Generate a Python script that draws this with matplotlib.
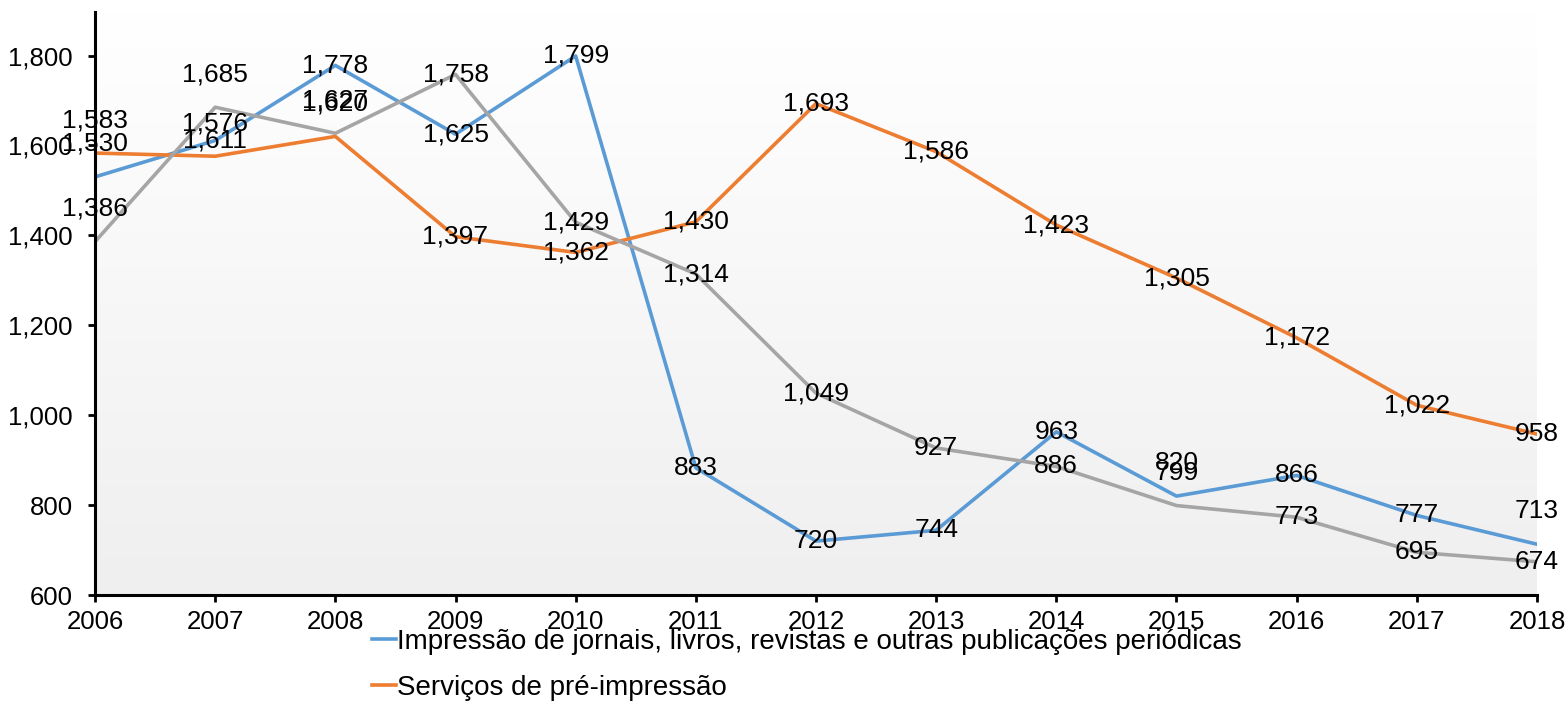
import numpy as np
import matplotlib.pyplot as plt
from matplotlib.colors import LinearSegmentedColormap
from matplotlib.ticker import FuncFormatter

plt.rcParams['font.family'] = ['Liberation Sans', 'DejaVu Sans']

# data
years = [2006, 2007, 2008, 2009, 2010, 2011, 2012, 2013, 2014, 2015, 2016, 2017, 2018]
impressao = [1530, 1611, 1778, 1625, 1799, 883, 720, 744, 963, 820, 866, 777, 713]
pre_impressao = [1583, 1576, 1620, 1397, 1362, 1430, 1693, 1586, 1423, 1305, 1172, 1022, 958]
acabamentos = [1386, 1685, 1627, 1758, 1429, 1314, 1049, 927, 886, 799, 773, 695, 674]

series_names = ["Impressão de jornais, livros, revistas e outras publicações periódicas",
                "Serviços de pré-impressão",
                "Serviços de acabamentos gráficos"]
colors = ['#5B9BD5', '#ED7D31', '#A5A5A5']

# where the value label sits: 'a' above the point, 'c' on the point
label_pos = [
    ['a', 'c', 'c', 'c', 'c', 'c', 'c', 'c', 'c', 'a', 'c', 'c', 'a'],
    ['a', 'a', 'a', 'c', 'c', 'c', 'c', 'c', 'c', 'c', 'c', 'c', 'c'],
    ['a', 'a', 'a', 'c', 'c', 'c', 'c', 'c', 'c', 'a', 'c', 'c', 'c'],
]

fig = plt.figure(figsize=(15.68, 7.26), dpi=100)
ax = fig.add_axes([0.0606, 0.1804, 0.9196, 0.8026])

ymin, ymax = 600, 1896
ax.set_xlim(2006, 2018)
ax.set_ylim(ymin, ymax)

# gradient plot area
grad = LinearSegmentedColormap.from_list('bg', ['#efefef', '#ffffff'])
ax.imshow(np.linspace(0, 1, 256).reshape(-1, 1), cmap=grad, aspect='auto',
          extent=[2006, 2018, ymin, ymax], origin='lower', zorder=0)

lines = []
for vals, col, pos in zip([impressao, pre_impressao, acabamentos], colors, label_pos):
    ln, = ax.plot(years, vals, color=col, lw=2.6, zorder=2, solid_joinstyle='round')
    lines.append(ln)
    for x, v, p in zip(years, vals, pos):
        dy = 33 if p == 'a' else 0
        ax.annotate(f"{v:,}", (x, v), xytext=(0, dy), textcoords='offset pixels',
                    ha='center', va='center', fontsize=19, color='black',
                    zorder=5, annotation_clip=False)

ax.set_xticks(years)
ax.set_yticks(range(600, 1801, 200))
ax.yaxis.set_major_formatter(FuncFormatter(lambda v, _: f"{int(v):,}"))
ax.tick_params(axis='both', labelsize=18.5, width=2, length=5, color='black')
ax.tick_params(axis='x', pad=6)
ax.tick_params(axis='y', pad=11)

for s in ['top', 'right']:
    ax.spines[s].set_visible(False)
for s in ['left', 'bottom']:
    ax.spines[s].set_linewidth(2.2)
    ax.spines[s].set_color('black')

fig.legend(lines[:2], series_names[:2], loc='upper left',
           bbox_to_anchor=(0.237, 0.134), frameon=False, fontsize=20,
           handlelength=0.86, handletextpad=0.07, labelspacing=0.72,
           borderaxespad=0, borderpad=0)

plt.savefig('out.png', dpi=100)
